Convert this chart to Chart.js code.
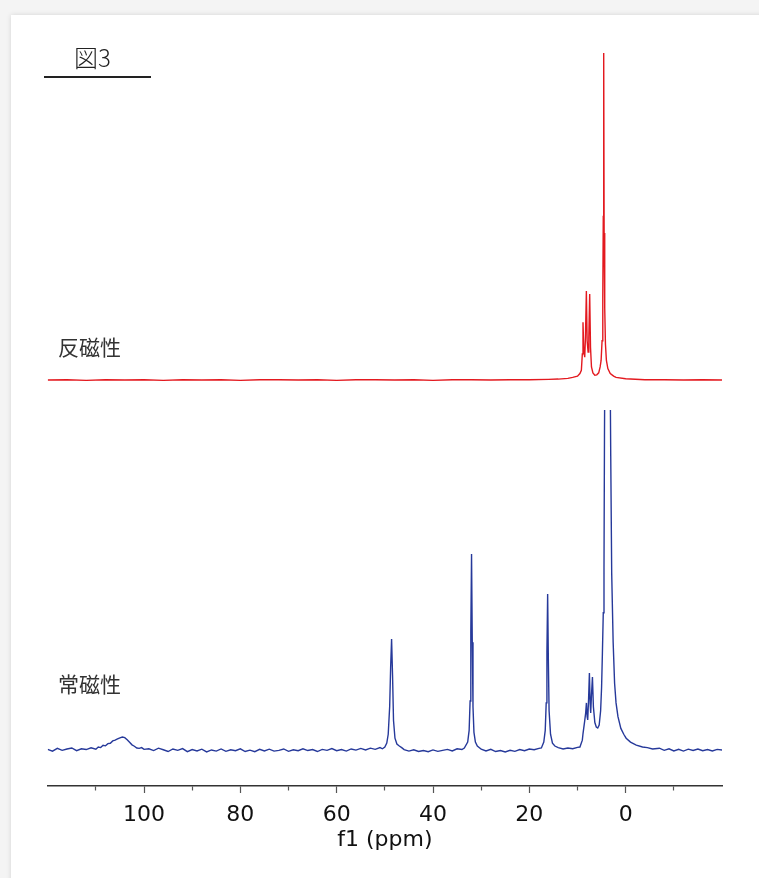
<!DOCTYPE html>
<html lang="ja">
<head>
  <meta charset="UTF-8">
  <title>図3</title>
  <style>
    body {
      margin: 0;
      width: 759px;
      height: 878px;
      background-color: #f4f4f4;
      position: relative;
      overflow: hidden;
      font-family: 'Noto Sans CJK JP', 'Noto Sans', sans-serif;
    }

    #card {
      position: absolute;
      left: 11px;
      top: 15px;
      width: 760px;
      height: 880px;
      background-color: #fff;
      box-shadow: 0 0 5px rgba(0, 0, 0, 0.13);
    }

    canvas {
      position: absolute;
      left: 0;
    }

    .label {
      position: absolute;
      line-height: 1;
      color: #333;
      white-space: nowrap;
    }

    #figRule {
      position: absolute;
      left: 44px;
      top: 76px;
      width: 107px;
      height: 1.5px;
      background-color: #222;
    }
  </style>
</head>
<body>
  <div id="card"></div>
  <canvas id="topChart" width="759" height="400" style="top:0"></canvas>
  <canvas id="bottomChart" width="759" height="478" style="top:400px"></canvas>

  <div class="label" style="left:74px; top:45px; font-size:24px; font-weight:300; color:#222;">図3</div>
  <div id="figRule"></div>
  <div class="label" style="left:58px; top:336px; font-size:21px;">反磁性</div>
  <div class="label" style="left:58px; top:673px; font-size:21px;">常磁性</div>

  <script src="https://cdn.jsdelivr.net/npm/chart.js"></script>
  <script>
    // 反磁性 trace (ppm, intensity; tallest peak = 100)
    const redShift = [
      120, 116, 112, 108, 104, 100, 96, 92, 88, 84, 80, 76, 72, 68, 64, 60, 56, 52, 48, 44,
      40, 36, 32, 28, 24, 20, 16, 14, 12, 11, 10, 9.5, 9.2, 9.0, 8.86, 8.7, 8.5, 8.35, 8.16, 8.0,
      7.8, 7.65, 7.47, 7.3, 7.1, 6.8, 6.4, 6.0, 5.6, 5.3, 5.1, 4.9, 4.75, 4.65, 4.56, 4.47, 4.35, 4.2, 4.0, 3.7,
      3.2, 2.5, 2.0, 0, -4, -8, -12, -16, -20
    ];
    const redIntensity = [
      0, 0.1, -0.1, 0.1, 0.0, 0.1, -0.1, 0.1, 0.0, 0.1, -0.1, 0.1, 0.1, 0.0, 0.1, -0.1, 0.1, 0.1, 0.0, 0.1,
      -0.1, 0.1, 0.1, 0.0, 0.1, 0.1, 0.2, 0.3, 0.5, 0.8, 1.2, 2.0, 3, 8, 17.7, 9, 7, 13, 27.2, 12,
      8.6, 13, 26.3, 10, 4, 2.2, 1.5, 1.6, 2.2, 4, 6, 12, 25, 50, 100, 45, 22, 11, 6, 3.5,
      2, 1.2, 0.8, 0.4, 0.1, 0.1, 0.0, 0.1, 0.0
    ];

    // 常磁性 trace (ppm, intensity; peak near 32 ppm = 100)
    const blueShift = [
      120, 119, 118, 117, 116, 115, 114, 113, 112, 111, 110,
      109.5, 109, 108.5, 108, 107.5, 107, 106.5, 106, 105.5, 105, 104.5, 104, 103.5, 103, 102.5, 102, 101.5, 101, 100.5, 100,
      99, 98, 97, 96, 95, 94, 93, 92, 91, 90, 89, 88, 87, 86, 85, 84, 83, 82, 81, 80,
      79, 78, 77, 76, 75, 74, 73, 72, 71, 70, 69, 68, 67, 66, 65, 64, 63, 62, 61, 60,
      59, 58, 57, 56, 55, 54, 53, 52, 51, 50.5,
      50, 49.6, 49.3, 49.0, 48.8, 48.6, 48.4, 48.2, 47.9, 47.5, 47, 46.5,
      46, 45, 44, 43, 42, 41, 40, 39, 38, 37, 36, 35, 34, 33.5,
      32.8, 32.5, 32.3, 32.15, 32.0, 31.85, 31.7, 31.5, 31.2, 30.8, 30.3,
      30, 29, 28, 27, 26, 25, 24, 23, 22, 21, 20, 19, 18, 17.5,
      17.0, 16.7, 16.5, 16.35, 16.2, 16.05, 15.9, 15.6, 15.2, 14.7, 14.0,
      13, 12, 11, 10, 9.5,
      9.0, 8.85, 8.5, 8.3, 8.15, 8.0, 7.88, 7.7, 7.53, 7.38, 7.26, 7.1, 6.9, 6.7, 6.4, 6.1, 5.8, 5.5, 5.2, 5.0,
      4.83, 4.65, 4.5, 4.4, 4.2, 3.9, 3.7, 3.5, 3.3, 3.1, 2.9, 2.6, 2.3, 2.0, 1.6, 1.0, 0.4, -0.1, -1.0, -2.2,
      -3.5, -4.5, -5.6, -7, -8, -9, -10, -11, -12, -13, -14, -15, -16, -17, -18, -19, -20
    ];
    const blueIntensity = [
      0.3, -0.6, 0.8, -0.2, 0.5, 1.0, -0.4, 0.6, 0.2, 1.1, 0.4,
      1.5, 1.2, 2.4, 2.1, 3.2, 3.4, 4.6, 5.0, 5.6, 6.2, 6.6, 6.3, 5.2, 3.9, 2.6, 1.9, 1.0, 0.8, 1.2, 0.3,
      0.6, -0.3, 0.9, 0.1, -0.8, 0.5, -0.2, 0.7, -0.9, 0.2, -0.5, 0.4, -1.0, 0.0, -0.6, 0.5, -0.7, 0.1, -0.4, 0.6,
      -0.8, -0.1, -0.9, 0.3, -0.5, 0.4, -0.6, -0.2, 0.5, -0.7, 0.1, -0.4, 0.6, -0.3, 0.2, -0.8, 0.3, -0.2, 0.7, -0.4,
      0.2, -0.6, 0.5, -0.1, 0.8, 0.0, 0.9, 0.3, 1.2, 0.6,
      1.5, 3.5, 8, 22, 42, 56.6, 38, 15, 6, 3, 2, 1.2,
      0.2, -0.6, 0.1, -0.8, -0.3, -0.9, 0.0, -0.7, -0.2, 0.3, -0.5, 0.6, 0.2, 1,
      4, 10, 25, 60, 100, 55, 22, 9, 4, 2, 1,
      0.4, -0.5, 0.3, -0.8, -0.3, -1.0, -0.2, -0.7, 0.2, -0.4, 0.5, 0.1, 0.8, 1.0,
      4, 10, 24, 50, 79.6, 45, 20, 8, 3.5, 2, 1.2,
      0.5, 1.0, 0.6, 1.3, 1.5,
      5, 8.5, 15, 19, 24, 17, 15.3, 26, 39.3, 24, 18.9, 28, 37.2, 22, 14, 11.7, 11.2, 12.7, 20, 32,
      49.5, 70, 93, 160, 260, 380, 400, 330, 220, 150, 90, 55, 34, 24, 17, 11, 8, 6, 4, 2.5,
      1.5, 1.2, 0.5, 0.9, -0.2, 0.6, -0.5, 0.3, -0.6, 0.4, -0.3, 0.5, -0.4, 0.2, -0.5, 0.3, 0.0
    ];

    const majorLabels = [100, 80, 60, 40, 20, 0];

    function toPoints(xs, ys) {
      return xs.map((x, i) => ({ x: x, y: ys[i] }));
    }

    const xBase = {
      type: 'linear',
      min: -20,
      max: 120,
      reverse: true
    };

    const common = {
      responsive: false,
      animation: false,
      devicePixelRatio: 1,
      plugins: { legend: { display: false }, tooltip: { enabled: false } },
      elements: { point: { radius: 0 }, line: { tension: 0, borderWidth: 1.4 } }
    };

    new Chart(document.getElementById('topChart').getContext('2d'), {
      type: 'line',
      data: {
        datasets: [{
          label: '反磁性',
          data: toPoints(redShift, redIntensity),
          borderColor: '#e3191f'
        }]
      },
      options: Object.assign({}, common, {
        layout: { padding: { left: 47.7, right: 37, top: 40, bottom: 0 } },
        scales: {
          x: Object.assign({}, xBase, { display: false }),
          y: { display: false, min: -6.1, max: 104 }
        }
      })
    });

    new Chart(document.getElementById('bottomChart').getContext('2d'), {
      type: 'line',
      data: {
        datasets: [{
          label: '常磁性',
          data: toPoints(blueShift, blueIntensity),
          borderColor: '#26399a'
        }]
      },
      options: Object.assign({}, common, {
        layout: { padding: { left: 47.7, right: 37, top: 10, bottom: 0 } },
        scales: {
          x: Object.assign({}, xBase, {
            afterFit: (s) => { s.height = 92; },
            border: { display: true, color: '#333', width: 1.5 },
            grid: {
              drawOnChartArea: false,
              drawTicks: true,
              tickLength: 7,
              tickWidth: 1.2,
              tickColor: (ctx) => (ctx.tick && (ctx.tick.value <= -20 || ctx.tick.value >= 120)) ? 'rgba(0,0,0,0)' : '#555',
              tickBorderDash: (ctx) => (ctx.tick && ctx.tick.value % 20 !== 0) ? [4, 40] : []
            },
            ticks: {
              stepSize: 10,
              autoSkip: false,
              maxRotation: 0,
              padding: 9,
              color: '#111',
              font: { family: 'DejaVu Sans', size: 22 },
              callback: (v) => majorLabels.includes(v) ? String(v) : ''
            },
            title: {
              display: true,
              text: 'f1 (ppm)',
              color: '#111',
              font: { family: 'DejaVu Sans', size: 22 },
              padding: { top: 0, bottom: 25 }
            }
          }),
          y: { display: false, min: -18.4, max: 173.5 }
        }
      })
    });
  </script>
</body>
</html>
